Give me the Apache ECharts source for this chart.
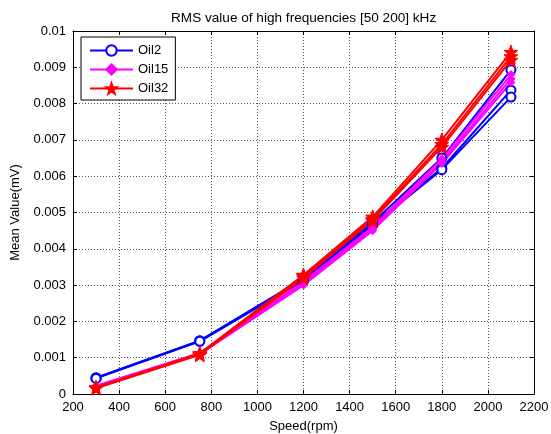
<!DOCTYPE html>
<html>
<head>
<meta charset="utf-8">
<script src="https://cdn.jsdelivr.net/npm/echarts@6/dist/echarts.min.js"></script>
<style>html,body{margin:0;padding:0;background:#fff;}#c{width:551px;height:434px;}</style>
</head>
<body>
<div id="c"></div>
<script>
var speeds = [300, 750, 1200, 1500, 1800, 2100];
var oil2_a = [0.00045, 0.00147, 0.00318, 0.00472, 0.00650, 0.00893];
var oil2_b = [0.00044, 0.00146, 0.00315, 0.00468, 0.00622, 0.00837];
var oil2_c = [0.00043, 0.00145, 0.00312, 0.00465, 0.00618, 0.00818];
var oil15_a = [0.00023, 0.00113, 0.00310, 0.00460, 0.00648, 0.00880];
var oil15_b = [0.00021, 0.00111, 0.00305, 0.00455, 0.00640, 0.00868];
var oil15_c = [0.00020, 0.00110, 0.00300, 0.00450, 0.00635, 0.00858];
var oil32_a = [0.00018, 0.00112, 0.00328, 0.00488, 0.00700, 0.00942];
var oil32_b = [0.00017, 0.00110, 0.00325, 0.00482, 0.00688, 0.00930];
var oil32_c = [0.00016, 0.00108, 0.00320, 0.00478, 0.00680, 0.00920];
var xTicks = [200, 400, 600, 800, 1000, 1200, 1400, 1600, 1800, 2000, 2200];
var yTicks = [0, 0.001, 0.002, 0.003, 0.004, 0.005, 0.006, 0.007, 0.008, 0.009, 0.01];

var star = 'path://M50,0 L61.8,33.8 L97.6,34.5 L69,56.2 L79.4,90.5 L50,70 L20.6,90.5 L31,56.2 L2.4,34.5 L38.2,33.8 Z';
var font = 'Liberation Sans, Arial, sans-serif';

function pairs(arr){ return speeds.map(function(s,i){ return [s, arr[i]]; }); }

var groups = [
  {name:'Oil2', color:'#0000ff', sym:'emptyCircle', size:9, data:[oil2_a, oil2_b, oil2_c]},
  {name:'Oil15', color:'#ff00ff', sym:'diamond', size:8, data:[oil15_a, oil15_b, oil15_c]},
  {name:'Oil32', color:'#ff0000', sym:star, size:14, data:[oil32_a, oil32_b, oil32_c]}
];
var series = [];
groups.forEach(function(g){
  g.data.forEach(function(d){
    series.push({
      name:g.name, type:'line', data:pairs(d), xAxisIndex:0, yAxisIndex:0,
      symbol:g.sym, symbolSize:g.size, showAllSymbol:true,
      lineStyle:{color:g.color, width:2},
      itemStyle:{color:g.color, borderColor:g.color, borderWidth: g.sym==='emptyCircle'?2:1},
      emphasis:{disabled:true}, animation:false
    });
  });
});

function axisBase(pos, showLabel, isX){
  return {
    type:'value', position:pos,
    min: isX?200:0, max: isX?2200:0.01, interval: isX?200:0.001,
    axisLine:{show:true, onZero:false, lineStyle:{color:'#000', width:1}},
    axisTick:{show:true, inside:true, length:4, lineStyle:{color:'#000'}},
    axisLabel:{show:showLabel, color:'#000', fontFamily:font, fontSize:13, margin:7,
      formatter:function(v){ return isX ? String(v) : String(parseFloat(v.toFixed(4))); }},
    splitLine:{show:showLabel, lineStyle:{color:'#555', type:[1,2], width:1}}
  };
}

var xa = axisBase('bottom', true, true);
xa.name = 'Speed(rpm)'; xa.nameLocation='middle'; xa.nameGap=26;
xa.nameTextStyle={color:'#000', fontFamily:font, fontSize:13};
var xb = axisBase('top', false, true);
var ya = axisBase('left', true, false);
ya.name = 'Mean Value(mV)'; ya.nameLocation='middle'; ya.nameGap=51;
ya.nameTextStyle={color:'#000', fontFamily:font, fontSize:13};
var yb = axisBase('right', false, false);

var chart = echarts.init(document.getElementById('c'), null, {renderer:'canvas'});
chart.setOption({
  backgroundColor:'#fff',
  animation:false,
  title:{text:'RMS value of high frequencies [50 200] kHz', left:166, top:6,
    textStyle:{color:'#000', fontFamily:font, fontSize:13.6, fontWeight:'normal'}},
  grid:{left:73, right:17, top:31, bottom:40, containLabel:false, outerBoundsMode:'none'},
  legend:{
    data:['Oil2','Oil15','Oil32'], orient:'vertical', left:81, top:37,
    backgroundColor:'#fff', borderColor:'#000', borderWidth:1,
    padding:[7,7,5,8], itemGap:6, itemWidth:43, itemHeight:13,
    textStyle:{color:'#000', fontFamily:font, fontSize:13}
  },
  xAxis:[xa, xb],
  yAxis:[ya, yb],
  series:series
});
</script>
</body>
</html>
